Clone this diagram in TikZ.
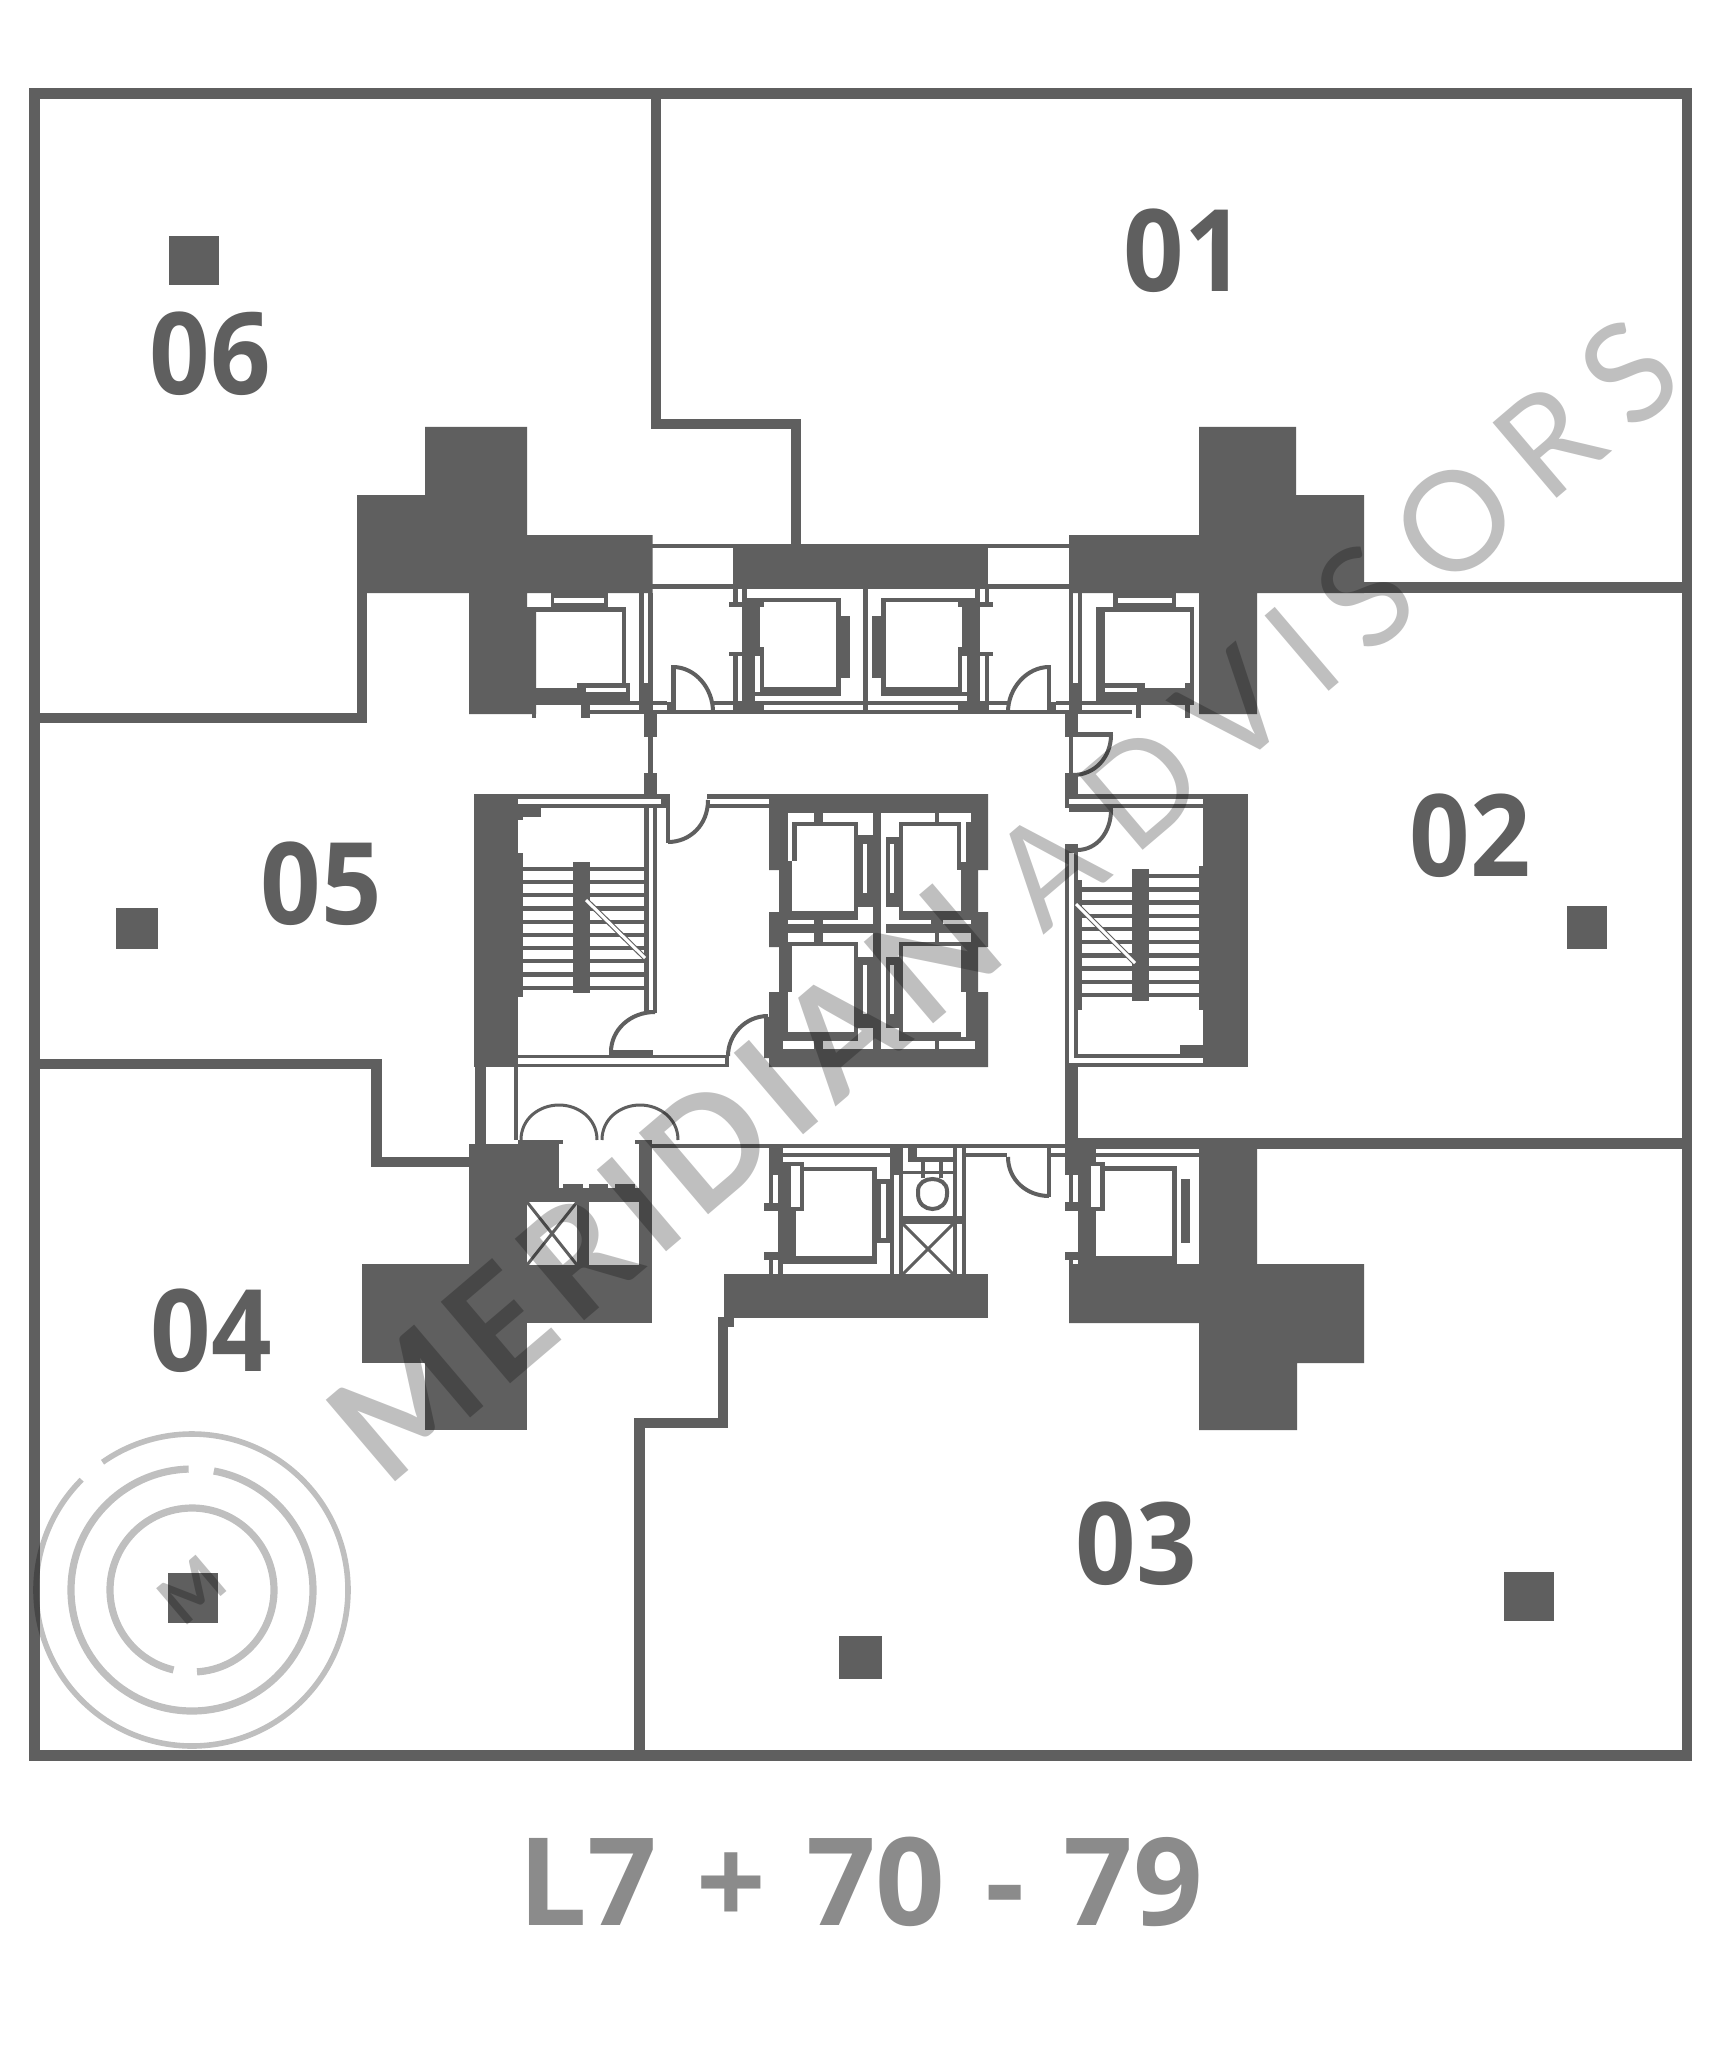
\documentclass[tikz,border=0pt]{standalone}
\usepackage{fontspec}
\newfontfamily\labelfont[FakeStretch=0.93]{Open Sans}
\newfontfamily\titlefont[WordSpace=1.25]{Open Sans}
\newfontfamily\markfont{Lato}
\definecolor{plan}{HTML}{5F5F5F}
\definecolor{title}{HTML}{8B8B8B}
\tikzstyle{wall} = [draw=plan, line width=5.2pt, line join=miter]
\tikzstyle{solid} = [fill=plan]
\tikzstyle{cut} = [fill=white]
\tikzstyle{leaf} = [draw=plan, line width=2pt]
\tikzstyle{cross} = [draw=plan, line width=1.5pt]
\tikzstyle{flight} = [draw=white, line width=1.5pt]
\tikzstyle{unit} = [font=\labelfont\bfseries\fontsize{57}{57}\selectfont, text=plan, inner sep=0pt]
\tikzstyle{ring} = [draw=black, opacity=0.25, line width=3.6pt]
\tikzstyle{wmark} = [text=black, text opacity=0.25, inner sep=0pt, rotate=40.4]
\newcommand{\boxes}[2][solid]{\foreach \a/\b/\c/\d in {#2} \fill[#1] (\a,\b) rectangle (\c,\d);}
\newcommand{\liftpiece}{
  \boxes{733/589/737.5/602, 742/589/747/602, 729/602/764/607, 742/602/760/652, 729/652/764/656,
    742/656/755/701, 733/656/737.5/701, 760/647/764/687, 747/598/841/602, 836/598/841/696,
    747/687/841/696, 841/616/850/678, 733/701/764/714}
  \boxes[cut]{755/687/760/692}
}
\newcommand{\stairtreads}[3]{\foreach \i in {#3} \fill[solid] (#1,{866.7+13.2*\i}) rectangle (#2,{871+13.2*\i});}
\begin{document}
\begin{tikzpicture}[x=0.5pt, y=-0.5pt]
\useasboundingbox (0,0) rectangle (1720,2048);
\fill[white] (0,0) rectangle (1720,2048);
% outer frame and unit walls
\draw[wall] (34.5,93.5) rectangle (1687,1755.5);
\draw[wall] (656,94) -- (656,424) -- (796,424) -- (796,544);
\draw[wall] (34.5,718) -- (362,718) -- (362,593);
\draw[wall] (1360,587.5) -- (1687,587.5);
\draw[wall] (1071,1143.5) -- (1687,1143.5);
\draw[wall] (34.5,1064) -- (376.5,1064) -- (376.5,1162) -- (469,1162);
\draw[wall] (639.5,1755.5) -- (639.5,1423) -- (723,1423) -- (723,1320);
% columns
\fill[solid] (425,427) -- (527,427) -- (527,535) -- (652.5,535) -- (652.5,593) -- (527,593) -- (527,607) -- (536,607)
  -- (536,714) -- (469,714) -- (469,593) -- (357,593) -- (357,495) -- (425,495) -- cycle;
\fill[solid] (1199,427) -- (1296,427) -- (1296,495) -- (1364,495) -- (1364,593) -- (1257,593) -- (1257,714)
  -- (1199,714) -- (1199,593) -- (1069,593) -- (1069,535) -- (1199,535) -- cycle;
\fill[solid] (1069,1264) -- (1199,1264) -- (1199,1144) -- (1257,1144) -- (1257,1264) -- (1364,1264) -- (1364,1363)
  -- (1297,1363) -- (1297,1430) -- (1199,1430) -- (1199,1323) -- (1069,1323) -- cycle;
\boxes{469/1144/527/1430, 527/1144/558.6/1202, 518/1140/563/1144, 558.6/1188/639/1202, 563/1184/583/1188,
  589/1184/608/1188, 615/1184/635/1188, 577/1202/589/1265, 639/1144/652/1323, 635/1140/652/1144,
  527/1265/652/1323, 362/1264/527/1363, 425/1363/527/1430}
% beams and corridor lines
\boxes{733/544/988/589, 652/544/733/548, 652/584/733/589, 988/544/1069/548, 988/584/1069/589,
  724/1274/988/1318, 718/1317/734/1327, 590/710/1132/714, 652/701/667/705, 713/701/863/705,
  867/701/1008/705, 1056/701/1069/705, 1082/701/1100/705, 863/589/867.5/714,
  652/1144/966/1148, 966/1144/1065/1148, 966/1153/1007/1157, 1047/1153/1065/1157,
  1082/1144/1199/1149, 1082/1153/1199/1157, 707/794/769/799, 707/804/769/808}
% lifts on the upper corridor
\boxes{551/593/608/612, 536/607/626/612, 622/607/626/683, 577/683/630/688, 536/688/630/705,
  532/705/536/718, 581/705/590/718, 590/701/639/705}
\boxes[cut]{554/598/604/603, 586/688/626/692}
\liftpiece
\begin{scope}[shift={(1722,0)}, xscale=-1]
\liftpiece
\end{scope}
\boxes{1113/593/1176/612, 1096/607/1194/612, 1096/607/1105/705, 1190/607/1194/683, 1096/683/1145/688,
  1096/692/1194/705, 1137/688/1194/692, 1185/683/1194/688, 1136/705/1141/718, 1185/705/1190/718}
\boxes[cut]{1118/598/1172/603}
% risers between floors
\boxes{639/593/644/683, 648/593/652.5/683, 639/683/652.5/714, 644/713/657/737, 648/737/652.5/773, 644/773/657/808,
  1069/593/1073/683, 1078/593/1082/683, 1069/683/1082/714, 1065/713/1078/737, 1069/737/1073/773,
  1065/773/1078/808, 667/702/676/714, 1047/702/1056/714}
% left stair
\boxes{474/794/670/808, 474/808/518/1067, 518/853/523/997, 518/808/541/817, 518/817/523/820, 666/794/670/843,
  644/804/649/1013, 653/804/657/1013, 644/1010/657/1013, 518/1055/729/1058, 518/1064/729/1067,
  725/1055/729/1067, 609/1050/653/1055, 572.5/862/590/993, 475/1067/486/1144, 514/1067/518/1140}
\boxes[cut]{518/799/661/804}
\stairtreads{523}{644}{0,...,9}
\draw[draw=plan, line width=2.6pt] (586,900) -- (645,958);
\draw[flight] (586,900) -- (645,958);
% right stair
\boxes{1069/794/1248/808, 1203/808/1248/1067, 1199/866/1203/1010, 1180/1045/1203/1058, 1065/844/1078/853,
  1065/853/1069/1067, 1074/853/1078/1058, 1078/880/1082/1010, 1074/1054/1203/1058, 1065/1063/1203/1067,
  1132/869/1149/1001, 1065/1063/1078/1175, 1069/808/1113/812}
\boxes[cut]{1069/799/1203/804}
\foreach \i in {0,...,9} \fill[solid] (1149,{874+13.2*\i}) rectangle (1199,{878.3+13.2*\i});
\foreach \i in {1,...,9} \fill[solid] (1082,{874+13.2*\i}) rectangle (1132,{878.3+13.2*\i});
\draw[draw=plan, line width=2.6pt] (1076,904) -- (1135,963);
\draw[flight] (1076,904) -- (1135,963);
% lift core
\fill[solid] (769,794) -- (988,794) -- (988,870) -- (978,870) -- (978,912) -- (988,912) -- (988,947) -- (978,947)
  -- (978,992) -- (988,992) -- (988,1067) -- (769,1067) -- (769,1058) -- (764,1058) -- (764,1017) -- (769,1017)
  -- (769,992) -- (779,992) -- (779,947) -- (769,947) -- (769,912) -- (779,912) -- (779,870) -- (769,870) -- cycle;
\boxes[cut]{797/826/854/861, 792/861/854/911, 787.5/817/792/861, 787.5/813/813.5/822, 822.5/813/872.5/822,
  858/822/872.5/835, 863/844/867/893, 858/907/872.5/924, 787.5/920/813.5/924, 822.5/920/872.5/924,
  787.5/933/813.5/942, 822.5/933/872.5/942, 858/942/872.5/957, 792/946/854/1032, 787.5/992/792/1032,
  783/1041/813.5/1049, 822.5/1041/872.5/1049, 858/1028/872.5/1049, 863/965/867/1014,
  903/826/957/911, 957/870/961/911, 961/822/966/862, 881/813/935/822, 939/813/971/822, 881/822/899/837,
  881/837/886/1049, 890/844/894/893, 886/907/899/924, 881/920/931/924, 943/920/971/924, 881/933/935/942,
  939/933/971/942, 886/942/899/957, 903/946/961/1032, 961/992/966/1037, 881/1041/935/1049, 939/1041/975/1049,
  886/1028/899/1049, 890/965/894/1014}
% lower lifts
\boxes{768.6/1144/783/1175, 778/1162/796/1256, 783/1153/890/1157, 768.6/1175/773/1203, 764/1203/783/1211,
  786/1162/804/1211, 804/1167/877/1171, 872/1167/877/1264, 783/1256/877/1264, 764/1252/783/1260,
  768.6/1260/773/1274, 778/1260/783/1274, 877/1179/890/1243,
  1065/1202/1078/1211, 1065/1252/1078/1260, 1069/1260/1073/1264, 1069/1175/1073/1202, 1078/1144/1096/1264,
  1065/1144/1082/1175, 1087/1162/1105/1211, 1105/1166/1177/1171, 1172/1166/1177/1264, 1096/1256/1177/1264,
  1181/1179/1190/1243, 1047/1148/1051/1197}
\boxes[cut]{791/1166/800/1207, 881/1184/886/1238, 1091/1166/1100/1207}
% washroom
\boxes{890/1144/903/1175, 890/1175/894/1274, 899/1175/903/1274, 908/1148/912/1162, 908/1148/917/1157,
  912/1157/953/1162, 953/1148/957/1274, 962/1148/966/1274, 903/1171/953/1174, 921/1162/925/1178,
  939/1162/943/1178, 903/1216/962/1224}
\draw[leaf] (918,1191) .. controls (918,1175) and (947,1175) .. (947,1191) -- (947,1194)
  .. controls (947,1214) and (918,1214) .. (918,1194) -- cycle;
\draw[cross] (903,1224) -- (953,1274) (953,1224) -- (903,1274);
\draw[cross] (527,1202) -- (577,1265) (577,1202) -- (527,1265);
% door swings
\boxes{671/665/676/712, 1047/665/1051/712, 1073/732/1113/737}
\draw[leaf] (673,667) .. controls (695,667) and (713,688) .. (713,712);
\draw[leaf] (1049,667) .. controls (1027,667) and (1008,688) .. (1008,712);
\draw[leaf] (1111,735) .. controls (1111,757) and (1095,775) .. (1073,775);
\draw[leaf] (1111,810) .. controls (1111,832) and (1097,850) .. (1077,850);
\draw[leaf] (668,842) .. controls (690,842) and (708,825) .. (708,800);
\draw[leaf] (655,1012) .. controls (630,1012) and (611,1030) .. (611,1052);
\draw[leaf] (768,1016) .. controls (745,1016) and (728,1035) .. (728,1056);
\draw[leaf] (1049,1196) .. controls (1027,1196) and (1008,1180) .. (1008,1157);
\draw[leaf, line width=1.5pt] (521,1140) .. controls (521,1118) and (540,1105) .. (559,1105) .. controls (578,1105) and (597,1118) .. (597,1140);
\draw[leaf, line width=1.5pt] (602,1140) .. controls (602,1118) and (621,1105) .. (640,1105) .. controls (659,1105) and (678,1118) .. (678,1140);
% columns in the units
\boxes{169/236/219/285, 116/908/158/949, 1567/906/1607/949, 168/1573/218/1623, 839/1636/882/1679, 1504/1572/1554/1621}
% unit numbers
\node[unit] (u01) at (1184,251) {01};
\node[unit] (u02) at (1470,836) {02};
\node[unit] (u03) at (1136,1544) {03};
\node[unit] (u04) at (211,1331) {04};
\node[unit] (u05) at (321,884) {05};
\node[unit] (u06) at (210,354) {06};
\node[unit, text=title, font=\titlefont\bfseries\fontsize{61}{61}\selectfont] (floors) at (861,1882) {L7 + 70 - 79};
% stamp
\draw[ring, line width=2.8pt] (192,1590) ++(-135:156) arc (-135:-485:156);
\draw[ring] (192,1590) ++(-91.6:121) arc (-91.6:-439.6:121);
\draw[ring] (192,1590) ++(-273.5:82) arc (-273.5:-617:82);
\node[wmark, font=\markfont\bfseries\fontsize{33}{33}\selectfont] (stamp) at (192,1590) {M};
\node[wmark, font=\markfont\bfseries\fontsize{74}{74}\selectfont\addfontfeature{LetterSpace=8}] (firm) at (664,1183) {MERIDIAN};
\node[wmark, font=\markfont\fontsize{69}{69}\selectfont\addfontfeature{LetterSpace=18}] (trade) at (1334,623) {ADVISORS};
\end{tikzpicture}
\end{document}
